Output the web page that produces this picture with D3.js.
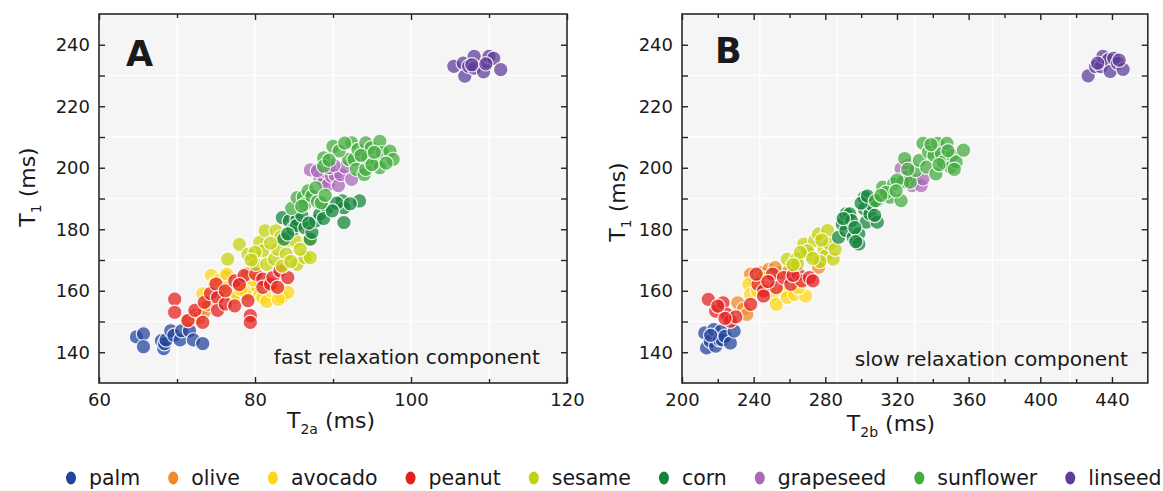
<!DOCTYPE html>
<html><head><meta charset="utf-8">
<script src="https://cdn.jsdelivr.net/npm/d3@7"></script>
<style>
body{margin:0;background:#fff}
svg{display:block}
text{font-family:"DejaVu Sans",sans-serif;fill:#1a1a1a}
</style>
</head><body>
<svg id="chart" width="1163" height="491"></svg>
<script>
// ---------- categories ----------
const oils = ["palm","olive","avocado","peanut","sesame","corn","grapeseed","sunflower","linseed"];
const oilColors = ["#25459d","#f28a24","#fcd616","#e3201f","#c3d110","#13843a","#ab68b8","#43ad3e","#5e3b98"];

// ---------- panel A: [T2a, T1] ----------
const palmA = [[64.8,145],[65.7,146],[65.7,141.8],[68.0,143.8],[68.3,141.2],[68.4,142.8],[68.6,144],[69.2,147],[69.6,145.5],[70.4,144],[70.6,147],[71.6,147],[72.1,144],[73.3,142.8]];
const oliveA = [[71.4,150.5],[72.3,152],[72.8,151.2],[73.5,154.6],[73.5,153.2],[74.0,155.5],[74.9,162.3],[75.6,160.0],[76.3,164.5],[77.0,158.5],[78.2,162.0],[79.0,165.5]];
const avocadoA = [[73.3,159],[74.4,165],[74.8,162],[75.5,163.5],[76.4,165.4],[77.2,157.5],[77.7,159],[78.9,159],[79.4,160.7],[80.3,161],[80.6,158.5],[81.0,157.8],[81.5,156.5],[82.1,160],[82.9,160],[83.5,158],[84.2,159.5],[76.0,161],[79.8,163.5],[78.2,160.5],[83.0,157.2]];
const peanutA = [[69.7,157.3],[69.7,153],[71.4,150.3],[72.3,153.6],[73.3,149.7],[73.5,156.2],[74.3,159.1],[75.0,162.2],[75.2,157.8],[75.2,153.6],[76.2,155.7],[76.2,160],[77.4,155.1],[77.4,163.2],[78.6,164.9],[79.1,156.8],[79.4,151.9],[79.4,149.7],[80.1,165.4],[81.0,163.8],[81.0,161.1],[82.0,162.2],[82.3,164.3],[82.9,161.1],[83.2,166.5],[84.2,164.3],[78.0,162]];
const sesameA = [[76.5,170.3],[78.0,175.1],[79.1,171.9],[80.1,168.6],[80.6,175.7],[81.0,173],[81.3,179.5],[81.5,168.6],[82.5,170.3],[82.7,179.5],[82.9,173.5],[84.0,176.2],[84.0,171.9],[85.2,176.2],[85.4,168.6],[86.4,170.8],[86.9,176.8],[87.1,170.8],[83.5,168],[80.0,172.5],[83.3,177.5],[85.8,173.5],[79.5,170],[84.6,169.5],[82.0,175.5]];
const cornA = [[83.5,183.8],[83.7,176.8],[84.4,182.7],[84.9,180],[85.4,183.2],[85.3,181.2],[86.4,180.5],[87.1,176.8],[87.3,179],[87.8,182.7],[88.3,184.9],[89.3,187],[91.2,189.2],[91.4,187],[91.4,182.2],[93.4,189.2],[90.5,188.5],[84.2,178.5],[86.0,184.5],[88.8,183.5],[89.9,186],[92.2,188.3],[86.9,182]];
const grapeseedA = [[87.1,199.3],[88.3,196.9],[88.8,195.5],[89.2,198.5],[89.4,194.5],[89.8,197.3],[90.3,197.5],[90.7,194.2],[91.0,197.8],[91.5,200.3],[92.4,196.2],[89.5,200],[90.1,200.8],[88.0,199]];
const sunflowerA = [[84.7,186.8],[85.4,190.3],[86.2,190.5],[86.4,188.1],[86.8,192.5],[87.3,190.8],[88.0,189],[88.5,188.6],[87.8,193.5],[89.0,191],[86.0,187.5],
  [88.8,203.2],[88.8,200.5],[90.0,207],[92.0,202.7],[92.4,208.1],[92.7,202.7],[93.0,199.5],[93.2,205.9],[94.0,197.8],[94.2,199.5],[94.4,203.2],[94.2,208.1],[94.9,206.5],[95.6,202.2],[96.0,208.6],[96.3,204.9],[96.0,200],[97.3,205.4],[97.7,202.7],[95.0,201],[93.6,204],[90.8,205.5],[91.5,208],[95.3,205],[96.8,201.5],[89.5,202.5]];
const linseedA = [[105.5,233],[106.7,234],[106.9,229.8],[107.4,233],[108.1,236.2],[108.1,232.4],[109.3,231.2],[109.8,234.4],[110.0,236.2],[110.6,235.6],[111.5,231.9],[107.8,233.5],[109.6,233.8]];

// ---------- panel B: [T2b, T1] ----------
const palmB = [[212.7,146.3],[213.7,141.4],[215.8,143.6],[217.8,147.4],[218.8,142],[220.9,144.1],[221.9,146.9],[222.5,144],[224,145.2],[227,143],[229.1,146.9],[216,145.5]];
const oliveB = [[231.1,156.1],[234.2,154],[236.2,152.3],[238.3,165.4],[244.4,165.9],[248.5,167],[254.7,165.9],[259.8,166.5],[276.2,167.6],[241,163],[252,167.5]];
const avocadoB = [[237.3,162.1],[238.3,158.8],[244.4,164.3],[250.6,158.8],[252.6,155.6],[256.7,159.9],[258.8,157.8],[262.9,158.8],[269,158.3],[246,161],[265,161],[242,160]];
const peanutB = [[214.7,157.2],[218.8,153.4],[222.9,156.1],[225,152.3],[227,150.1],[230,151.5],[238.3,155.6],[242.4,162.1],[245.5,160],[245.5,158.3],[250.6,165.4],[252.6,161],[256.7,164.3],[260.8,162.1],[264.9,165.4],[267,163.2],[271.1,164.3],[273.1,163.2],[241.4,165.4],[224,151],[248,163],[262,165],[220,155]];
const sesameB = [[258.8,170.3],[263.9,170.3],[264.5,168.7],[268,175.2],[271.1,171.9],[274.1,176.3],[276.2,178.5],[279.3,173.6],[280.3,171.4],[281.3,179.6],[282.4,175.2],[284.4,170.3],[270,173],[277,169.5],[266,172.5],[273,170.5],[278,176.5],[262,168.5],[285.5,173.5]];
const cornB = [[287.4,177.4],[289.5,181.7],[291.5,179.6],[291.5,185],[293.6,185],[294.6,182.8],[295.6,177.4],[298.7,178.5],[298.7,175.2],[301.8,190.4],[301.8,186.6],[302.8,182.3],[304.9,185],[309,182.3],[309,189.3],[306,188],[290,183.5],[296.5,180.5],[300,188.5],[303.5,190.8],[307.5,184.5],[297,176]];
const grapeseedB = [[322.3,199.7],[326.4,200.8],[328.4,194.2],[330.5,195.9],[333.5,194.2],[334.5,196.4],[325,197]];
const sunflowerB = [[308,189.3],[312,193.7],[316.1,190.4],[318.2,194.8],[322.3,189.3],[323.3,195.3],[327.4,195.3],[324.3,203],[330.4,199.1],[332.5,202.4],[334.5,207.9],[336.6,200.2],[337.6,205.1],[340.7,204],[341.7,198],[342.7,207.9],[344.8,204.6],[345.8,201.9],[347.9,207.9],[349.9,200.2],[350.9,204],[353,201.9],[357.1,205.7],[314,192],[320,196],[319.5,192.5],[326,199.5],[339,207.5],[343.5,201],[348.5,205.5],[311,191],[352,199.5]];
const linseedB = [[426.7,229.9],[430.8,232.9],[433.9,232.9],[434.9,236.2],[437.9,235.1],[439,231.3],[441,235.6],[443.1,234],[446.2,232],[444,235],[432,234]];

// ---------- ticks ----------
const yMajorTicks = [140,160,180,200,220,240];
const yMinorTicks = [150,170,190,210,230];
const xMajorTicksA = [60,80,100,120];
const xMinorTicksA = [70,90,110];
const xMajorTicksB = [200,240,280,320,360,400,440];
const xMinorTicksB = [220,260,300,340,380,420];

const seriesA = [palmA,oliveA,avocadoA,peanutA,sesameA,cornA,grapeseedA,sunflowerA,linseedA];
const seriesB = [palmB,oliveB,avocadoB,peanutB,sesameB,cornB,grapeseedB,sunflowerB,linseedB];

const svg = d3.select("#chart");
const FONT = "DejaVu Sans, sans-serif";

function drawPanel(cfg){
  const x = d3.scaleLinear().domain(cfg.xDomain).range([cfg.left, cfg.right]);
  const y = d3.scaleLinear().domain([130,250]).range([383,14]);
  const g = svg.append("g");
  const [L,R] = x.range(), [B,T] = y.range();
  g.append("rect").attr("x",L).attr("y",T).attr("width",R-L).attr("height",B-T).attr("fill","#f5f5f5");
  // grid: six equal divisions
  const gx = d3.range(1,6).map(i => cfg.xDomain[0] + i*(cfg.xDomain[1]-cfg.xDomain[0])/6);
  const gy = d3.range(1,6).map(i => 130 + i*20);
  g.selectAll(".gx").data(gx).join("line").attr("x1",d=>x(d)).attr("x2",d=>x(d)).attr("y1",T).attr("y2",B)
    .attr("stroke","#fff").attr("stroke-width",1.6);
  g.selectAll(".gy").data(gy).join("line").attr("y1",d=>y(d)).attr("y2",d=>y(d)).attr("x1",L).attr("x2",R)
    .attr("stroke","#fff").attr("stroke-width",1.6);
  // points
  cfg.series.forEach((pts,i) => {
    g.append("g").selectAll("circle").data(pts).join("circle")
      .attr("cx",d=>x(d[0])).attr("cy",d=>y(d[1])).attr("r",7.2)
      .attr("fill",oilColors[i]).attr("fill-opacity",0.74)
      .attr("stroke","#ffffff").attr("stroke-width",1.2).attr("stroke-opacity",0.85);
  });
  // axes
  const styleAxis = sel => {
    sel.select(".domain").remove();
    sel.selectAll(".tick line").attr("stroke","#222").attr("stroke-width",1.4);
    sel.selectAll("text").attr("font-size",18).attr("font-family",FONT).attr("fill","#1a1a1a");
  };
  const fmt = d3.format("d");
  g.append("g").attr("transform",`translate(0,${B})`).call(d3.axisBottom(x).tickValues(cfg.xMajor).tickSize(-6).tickPadding(10).tickFormat(fmt)).call(styleAxis);
  g.append("g").attr("transform",`translate(0,${B})`).call(d3.axisBottom(x).tickValues(cfg.xMinor).tickSize(-4).tickFormat("")).call(styleAxis);
  g.append("g").attr("transform",`translate(0,${T})`).call(d3.axisTop(x).tickValues(cfg.xMajor).tickSize(-6).tickFormat("")).call(styleAxis);
  g.append("g").attr("transform",`translate(0,${T})`).call(d3.axisTop(x).tickValues(cfg.xMinor).tickSize(-4).tickFormat("")).call(styleAxis);
  g.append("g").attr("transform",`translate(${L},0)`).call(d3.axisLeft(y).tickValues(yMajorTicks).tickSize(-6).tickPadding(9).tickFormat(fmt)).call(styleAxis);
  g.append("g").attr("transform",`translate(${L},0)`).call(d3.axisLeft(y).tickValues(yMinorTicks).tickSize(-6).tickFormat("")).call(styleAxis);
  g.append("g").attr("transform",`translate(${R},0)`).call(d3.axisRight(y).tickValues(yMajorTicks).tickSize(-6).tickFormat("")).call(styleAxis);
  g.append("g").attr("transform",`translate(${R},0)`).call(d3.axisRight(y).tickValues(yMinorTicks).tickSize(-6).tickFormat("")).call(styleAxis);
  // frame
  g.append("rect").attr("x",L).attr("y",T).attr("width",R-L).attr("height",B-T)
    .attr("fill","none").attr("stroke","#2a2a2a").attr("stroke-width",1.6);
  // panel letter
  g.append("text").attr("x",cfg.letterX).attr("y",cfg.letterY).attr("font-size",35).attr("font-weight","bold")
    .attr("fill","#000").text(cfg.letter);
  // note
  g.append("text").attr("x",cfg.noteX).attr("y",cfg.noteY).attr("text-anchor","end").attr("font-size",20.2).text(cfg.note);
  // x title
  const xt = g.append("text").attr("x",cfg.xTitleX).attr("y",cfg.xTitleY).attr("text-anchor","middle").attr("font-size",22);
  xt.append("tspan").text("T");
  xt.append("tspan").attr("font-size",14).attr("dy",6).text(cfg.xSub);
  xt.append("tspan").attr("dy",-6).text(" (ms)");
  // y title
  const yt = g.append("text").attr("transform",`translate(${cfg.yTitleX},${cfg.yTitleY}) rotate(-90)`)
    .attr("text-anchor","middle").attr("font-size",22);
  yt.append("tspan").text("T");
  yt.append("tspan").attr("font-size",14).attr("dy",6).text("1");
  yt.append("tspan").attr("dy",-6).text(" (ms)");
}

drawPanel({left:99,right:567,xDomain:[60,120],xMajor:xMajorTicksA,xMinor:xMinorTicksA,series:seriesA,
  letter:"A",letterX:126,letterY:66,note:"fast relaxation component",noteX:540,noteY:364,
  xSub:"2a",xTitleX:331,xTitleY:428,yTitleX:35,yTitleY:187});
drawPanel({left:682,right:1147.8,xDomain:[200,460],xMajor:xMajorTicksB,xMinor:xMinorTicksB,series:seriesB,
  letter:"B",letterX:715,letterY:63,note:"slow relaxation component",noteX:1128,noteY:366,
  xSub:"2b",xTitleX:891,xTitleY:431,yTitleX:625,yTitleY:202});

// ---------- legend ----------
const leg = svg.append("g");
let cx = 71;
oils.forEach((name,i) => {
  leg.append("ellipse").attr("cx",cx).attr("cy",478).attr("rx",5).attr("ry",6.5).attr("fill",oilColors[i]);
  const t = leg.append("text").attr("x",cx+18).attr("y",478).attr("dy","0.35em").attr("font-size",20.5).text(name);
  cx += 18 + t.node().getComputedTextLength() + 33;
});
</script>
</body></html>
